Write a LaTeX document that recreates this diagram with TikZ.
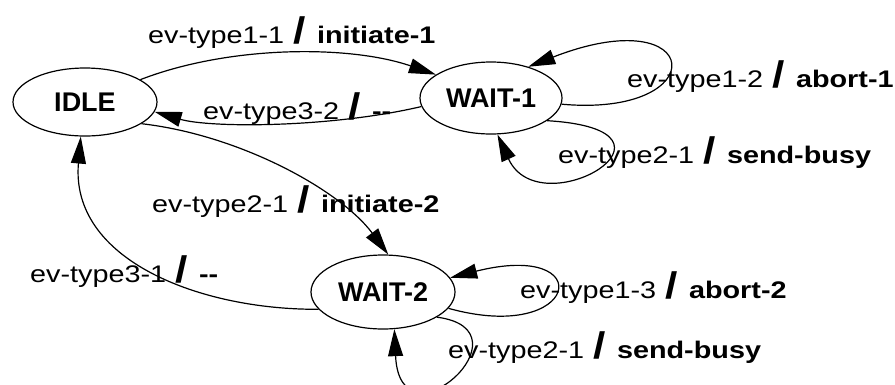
\documentclass[tikz,border=0pt]{standalone}
\usepackage{fontspec}
\usepackage{graphicx}
\setmainfont{Liberation Sans}
\usetikzlibrary{shapes.geometric,arrows.meta}

% transition label: event / action, widened a little
\newcommand\translabel[2]{\scalebox{1.2}[1]{\fontsize{24}{28}\selectfont #1\hspace{8pt}{\fontsize{37}{37}\selectfont\bfseries /}\hspace{9pt}\textbf{#2}}}

\begin{document}
\begin{tikzpicture}[x=1pt,y=-1pt,
  state/.style={ellipse,draw,line width=1.2pt,inner sep=0pt,
    font=\fontsize{27}{30}\selectfont\bfseries},
  lbl/.style={anchor=base west,inner sep=0pt},
  tr/.style={line width=1.2pt,-{Triangle[length=27pt,width=15pt]}}]

\useasboundingbox (0,0) rectangle (895,384);

% states
\node[state,minimum width=144pt,minimum height=68pt] (idle) at (85,102) {IDLE};
\node[state,minimum width=142pt,minimum height=72pt] (w1) at (491,98) {WAIT-1};
\node[state,minimum width=144pt,minimum height=74pt] (w2) at (383,292) {WAIT-2};

% transitions between states
\draw[tr] (idle.22) .. controls (230,45) and (350,45) .. (w1.157);
\draw[tr] (w1.187) .. controls (330,128) and (210,128) .. (idle.-8);
\draw[tr] (idle.-21) .. controls (240,135) and (340,190) .. (w2.82);
\draw[tr] (w2.195) .. controls (200,310) and (70,260) .. (idle.263);

% self loops
\draw[tr] (w1.-5) .. controls (715,118) and (705,-2) .. (w1.40);
\draw[tr] (w1.-22) .. controls (705,130) and (540,228) .. (w1.-80);
\draw[tr] (w2.-14) .. controls (580,345) and (600,240) .. (w2.12);
\draw[tr] (w2.-25) .. controls (535,330) and (400,452) .. (w2.-73);

% labels
\node[lbl] (l1) at (148,43) {\translabel{ev-type1-1}{initiate-1}};
\node[lbl] (l2) at (203,119) {\translabel{ev-type3-2}{-{}-}};
\node[lbl] (l3) at (152,212) {\translabel{ev-type2-1}{initiate-2}};
\node[lbl] (l4) at (30,282) {\translabel{ev-type3-1}{-{}-}};
\node[lbl] (l5) at (627,87) {\translabel{ev-type1-2}{abort-1}};
\node[lbl] (l6) at (558,163) {\translabel{ev-type2-1}{send-busy}};
\node[lbl] (l7) at (520,298) {\translabel{ev-type1-3}{abort-2}};
\node[lbl] (l8) at (448,358) {\translabel{ev-type2-1}{send-busy}};
\end{tikzpicture}
\end{document}
